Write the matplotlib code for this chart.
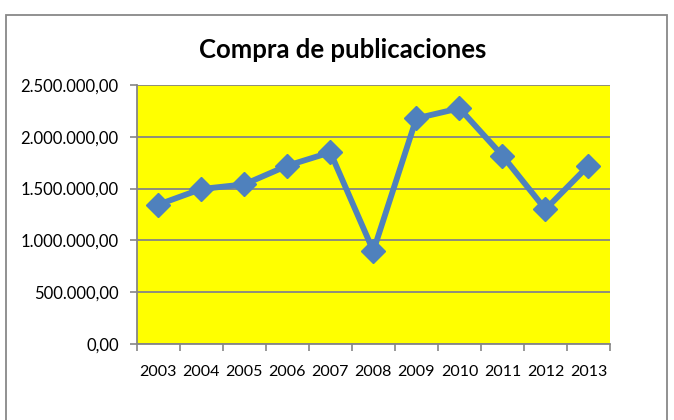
import numpy as np
import matplotlib.pyplot as plt
from matplotlib.patches import Rectangle

years = ["2003", "2004", "2005", "2006", "2007", "2008", "2009", "2010", "2011", "2012", "2013"]
compras = [1345000, 1496000, 1541000, 1721000, 1850000, 898000, 2178000, 2275000, 1818000, 1300000, 1721000]
yticks = [0, 500000, 1000000, 1500000, 2000000, 2500000]

plt.rcParams["font.family"] = ["Lato", "DejaVu Sans"]

fig = plt.figure(figsize=(6.74, 4.2), dpi=100)
ax = fig.add_axes([136.7 / 674, 1 - 344 / 420, (610 - 136.7) / 674, (344 - 85) / 420])
ax.set_facecolor("#FFFF00")

x = np.arange(len(years))
ax.plot(x, compras, color="#4F81BD", linewidth=4.2, marker="D", markersize=12,
        markerfacecolor="#4F81BD", markeredgecolor="#4F81BD", zorder=3)

ax.set_xlim(-0.5, len(years) - 0.5)
ax.set_ylim(0, 2500000)
ax.set_yticks(yticks)
ax.set_yticklabels([f"{v:,.2f}".replace(",", "X").replace(".", ",").replace("X", ".") for v in yticks],
                   fontsize=12)
ax.set_xticks(x)
ax.set_xticklabels(years, fontsize=11.5)
ax.set_xticks(np.arange(-0.5, len(years)), minor=True)
ax.tick_params(axis="x", which="major", length=0, pad=15)
ax.tick_params(axis="x", which="minor", length=5, color="#868686", width=1.2)
ax.tick_params(axis="y", length=5, color="#868686", width=1.2, pad=8)

ax.grid(axis="y", color="#868686", linewidth=1.3)
ax.set_axisbelow(True)
for s in ["top", "right"]:
    ax.spines[s].set_visible(False)
for s in ["left", "bottom"]:
    ax.spines[s].set_color("#868686")
    ax.spines[s].set_linewidth(1.3)

fig.text(343 / 674, 1 - 50 / 420, "Compra de publicaciones", ha="center", va="center",
         fontsize=18.5, fontweight="bold")

fig.patches.append(Rectangle((6 / 674, -0.05), (667 - 6) / 674, 1.05 - 15 / 420,
                             transform=fig.transFigure, fill=False,
                             edgecolor="#888888", linewidth=1.3))

fig.savefig("out.png", dpi=100)
